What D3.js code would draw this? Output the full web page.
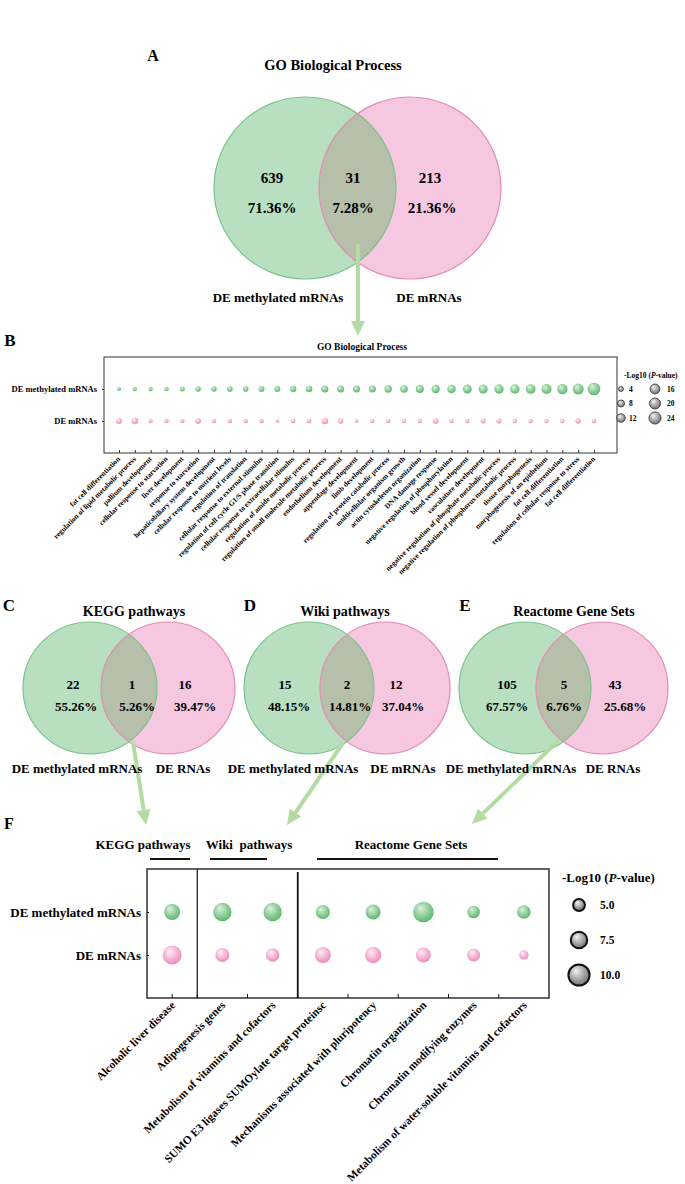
<!DOCTYPE html>
<html><head><meta charset="utf-8">
<script src="https://cdn.jsdelivr.net/npm/d3@7"></script>
<style>
body{margin:0;background:#fff}
svg{display:block;font-family:"Liberation Serif","Times New Roman",serif;font-weight:bold}
</style>
</head><body>
<svg id="c" width="685" height="1184"></svg>
<script>
// ---------------- DATA ----------------
const vennTitles = ["GO Biological Process", "KEGG pathways", "Wiki pathways", "Reactome Gene Sets"];
const vennLetters = ["A", "C", "D", "E"];
const vennCounts = [[639, 31, 213], [22, 1, 16], [15, 2, 12], [105, 5, 43]];
const vennPercents = [["71.36%", "7.28%", "21.36%"], ["55.26%", "5.26%", "39.47%"], ["48.15%", "14.81%", "37.04%"], ["67.57%", "6.76%", "25.68%"]];
const vennSetLabels = [["DE methylated mRNAs", "DE mRNAs"], ["DE methylated mRNAs", "DE RNAs"], ["DE methylated mRNAs", "DE mRNAs"], ["DE methylated mRNAs", "DE RNAs"]];

const rowNames = ["DE methylated mRNAs", "DE mRNAs"];

const goTerms = ["fat cell differentiation","regulation of lipid metabolic process","pallium development","cellular response to starvation","liver development","response to starvation","hepaticobiliary system development","cellular response to nutrient levels","regulation of translation","cellular response to external stimulus","regulation of cell cycle G1/S phase transition","cellular response to extracellular stimulus","regulation of amide metabolic process","regulation of small molecule metabolic process","endothelium development","appendage development","limb development","regulation of protein catabolic process","multicellular organism growth","actin cytoskeleton organization","DNA damage response","negative regulation of phosphorylation","blood vessel development","vasculature development","negative regulation of phosphate metabolic process","negative regulation of phosphorus metabolic process","tissue morphogenesis","morphogenesis of an epithelium","fat cell differentiation","regulation of cellular response to stress","fat cell differentiation"];
const goMethyl = [2.6,3.1,3.1,3.5,4.1,4.6,4.6,5.2,5.2,5.9,5.9,6.5,7.2,8.0,8.0,8.0,8.2,8.8,9.5,10.5,11.2,12.0,12.8,13.5,14.2,14.6,15.2,16.3,17.4,19.7,26];
const goMrna = [5.8,7.2,3.1,3.5,3.5,5.2,3.5,3.5,3.5,3.5,2.6,3.5,3.5,7.2,4.6,2.6,3.1,3.5,3.1,3.1,5.2,3.1,3.1,4.1,4.1,3.1,3.1,3.1,3.1,4.6,3.5];
const goLegend = [4, 8, 12, 16, 20, 24];

const pathTerms = ["Alcoholic liver disease","Adipogenesis genes","Metabolism of vitamins and cofactors","SUMO E3 ligases SUMOylate target proteinsc","Mechanisms associated with pluripotency","Chromatin organization","Chromatin modifying enzymes","Metabolism of water-soluble vitamins and cofactors"];
const pathGroupNames = ["KEGG pathways", "Wiki  pathways", "Reactome Gene Sets"];
const pathGroupOf = [0, 1, 1, 2, 2, 2, 2, 2];
const pathMethyl = [7.2, 8.5, 8.5, 6.2, 6.7, 9.7, 5.4, 5.9];
const pathMrna = [8.8, 6.2, 5.9, 7.2, 7.4, 6.7, 5.6, 3.7];
const pathLegend = [5.0, 7.5, 10.0];

// ---------------- LAYOUT ----------------
const svg = d3.select("#c");
const defs = svg.append("defs");
function radial(id, c0, c1) {
  const g = defs.append("radialGradient").attr("id", id)
    .attr("cx", "45%").attr("cy", "40%").attr("r", "60%").attr("fx", "35%").attr("fy", "30%");
  g.append("stop").attr("offset", "0%").attr("stop-color", c0);
  g.append("stop").attr("offset", "100%").attr("stop-color", c1);
}
radial("gGreen", "#dcf2de", "#5db66d");
radial("gPink", "#fff0f7", "#ec8bbd");
radial("gGray", "#f4f4f4", "#6f6f6f");

const GREEN_FILL = "#b9dfc1", PINK_FILL = "#f5c7e1", MID_FILL = "#b5bfaa";
const GREEN_STROKE = "#7cc389", PINK_STROKE = "#e48ab7";
const ARROW = "#b4dba4";

const vennLayout = [
  {cx1: 305, cx2: 410, cy: 188, rx: 91, ry: 91, letter: [153, 55, 16], title: [333, 65, 14.5], num: [272, 353, 430], pct: [272, 353, 432], rows: [178, 208], nfs: 15, lab: [278, 429], labY: 297, lfs: 13},
  {cx1: 90, cx2: 168, cy: 688, rx: 67, ry: 66, letter: [9, 605, 17], title: [134, 611, 14], num: [73, 132, 185], pct: [76, 137, 195], rows: [684, 706], nfs: 13, lab: [77, 183], labY: 768, lfs: 13},
  {cx1: 309, cx2: 385, cy: 688, rx: 65, ry: 66, letter: [250, 605, 17], title: [345, 611, 14], num: [285, 347, 396], pct: [289, 350, 403], rows: [684, 706], nfs: 13, lab: [293, 403], labY: 768, lfs: 13},
  {cx1: 525, cx2: 602, cy: 688, rx: 66, ry: 66, letter: [465, 605, 17], title: [574, 611, 14], num: [507, 564, 615], pct: [507, 564, 625], rows: [684, 706], nfs: 13, lab: [511, 613], labY: 768, lfs: 13}
];

function arrow(x1, y1, x2, y2) {
  const ang = Math.atan2(y2 - y1, x2 - x1);
  const L = 15, Wd = 7;
  const bx = x2 - L * Math.cos(ang), by = y2 - L * Math.sin(ang);
  svg.append("line").attr("x1", x1).attr("y1", y1).attr("x2", bx).attr("y2", by)
    .attr("stroke", ARROW).attr("stroke-width", 4);
  const px = -Math.sin(ang) * Wd, py = Math.cos(ang) * Wd;
  svg.append("path").attr("d", `M${x2},${y2}L${bx + px},${by + py}L${bx - px},${by - py}Z`).attr("fill", ARROW);
}

// ---------------- VENNS ----------------
vennLayout.forEach((L, i) => {
  const g = svg.append("g");
  const cid = "clipV" + i;
  defs.append("clipPath").attr("id", cid).append("ellipse")
    .attr("cx", L.cx1).attr("cy", L.cy).attr("rx", L.rx).attr("ry", L.ry);
  g.append("ellipse").attr("cx", L.cx1).attr("cy", L.cy).attr("rx", L.rx).attr("ry", L.ry).attr("fill", GREEN_FILL);
  g.append("ellipse").attr("cx", L.cx2).attr("cy", L.cy).attr("rx", L.rx).attr("ry", L.ry).attr("fill", PINK_FILL);
  g.append("ellipse").attr("cx", L.cx2).attr("cy", L.cy).attr("rx", L.rx).attr("ry", L.ry).attr("fill", MID_FILL).attr("clip-path", `url(#${cid})`);
  g.append("ellipse").attr("cx", L.cx1).attr("cy", L.cy).attr("rx", L.rx).attr("ry", L.ry).attr("fill", "none").attr("stroke", GREEN_STROKE).attr("stroke-width", 1.2);
  g.append("ellipse").attr("cx", L.cx2).attr("cy", L.cy).attr("rx", L.rx).attr("ry", L.ry).attr("fill", "none").attr("stroke", PINK_STROKE).attr("stroke-width", 1.2);
});

arrow(358, 244, 358, 336);
arrow(133, 742, 146, 825);
arrow(343, 743, 287, 825);
arrow(559, 740, 472, 824);

vennLayout.forEach((L, i) => {
  const g = svg.append("g");
  g.append("text").attr("x", L.letter[0]).attr("y", L.letter[1]).attr("text-anchor", "middle").attr("dominant-baseline", "central")
    .attr("font-size", L.letter[2]).text(vennLetters[i]);
  g.append("text").attr("x", L.title[0]).attr("y", L.title[1]).attr("text-anchor", "middle").attr("dominant-baseline", "central")
    .attr("font-size", L.title[2]).text(vennTitles[i]);
  vennCounts[i].forEach((c, j) => {
    g.append("text").attr("x", L.num[j]).attr("y", L.rows[0]).attr("text-anchor", "middle").attr("dominant-baseline", "central")
      .attr("font-size", L.nfs).text(c);
    g.append("text").attr("x", L.pct[j]).attr("y", L.rows[1]).attr("text-anchor", "middle").attr("dominant-baseline", "central")
      .attr("font-size", L.nfs).text(vennPercents[i][j]);
  });
  vennSetLabels[i].forEach((s, j) => {
    g.append("text").attr("x", L.lab[j]).attr("y", L.labY).attr("text-anchor", "middle").attr("dominant-baseline", "central")
      .attr("font-size", L.lfs).text(s);
  });
});

// ---------------- PANEL B ----------------
{
  const box = {left: 104, right: 617, top: 357, bottom: 453};
  const g = svg.append("g");
  g.append("text").attr("x", 10).attr("y", 340).attr("text-anchor", "middle").attr("dominant-baseline", "central").attr("font-size", 17).text("B");
  g.append("text").attr("x", 362).attr("y", 347).attr("text-anchor", "middle").attr("dominant-baseline", "central").attr("font-size", 9.5).text("GO Biological Process");

  const x = d3.scalePoint().domain(d3.range(goTerms.length)).range([box.left + 15, box.right - 23]);
  const y = d3.scalePoint().domain(rowNames).range([box.top, box.bottom]).padding(1);
  const r = d3.scaleSqrt().domain([0, 25]).range([0, 6.2]);

  g.append("rect").attr("x", box.left).attr("y", box.top).attr("width", box.right - box.left).attr("height", box.bottom - box.top)
    .attr("fill", "none").attr("stroke", "#333").attr("stroke-width", 1);

  const ya = g.append("g").attr("transform", `translate(${box.left},0)`).call(d3.axisLeft(y).tickSize(2).tickPadding(5));
  ya.select(".domain").remove();
  ya.selectAll("text").attr("font-size", 8.5).attr("font-family", "Liberation Serif").attr("font-weight", "bold").attr("fill", "#000");
  ya.selectAll("line").attr("stroke", "#333");

  const xa = g.append("g").attr("transform", `translate(0,${box.bottom})`)
    .call(d3.axisBottom(x).tickSize(3).tickFormat(i => goTerms[i]));
  xa.select(".domain").remove();
  xa.selectAll("line").attr("stroke", "#333").attr("y2", -3);
  xa.selectAll("text").attr("font-size", 7.3).attr("font-family", "Liberation Serif").attr("font-weight", "bold").attr("fill", "#000")
    .attr("text-anchor", "end").attr("dy", null).attr("dominant-baseline", "central")
    .attr("transform", "translate(0,4) rotate(-45)").attr("y", 0).attr("x", -1);

  g.selectAll("circle.m").data(goMethyl).join("circle").attr("class", "m")
    .attr("cx", (d, i) => x(i)).attr("cy", y(rowNames[0])).attr("r", d => r(d)).attr("fill", "url(#gGreen)");
  g.selectAll("circle.p").data(goMrna).join("circle").attr("class", "p")
    .attr("cx", (d, i) => x(i)).attr("cy", y(rowNames[1])).attr("r", d => r(d)).attr("fill", "url(#gPink)");

  const lg = g.append("g");
  const lt = lg.append("text").attr("x", 624).attr("y", 375).attr("font-size", 7.5).attr("dominant-baseline", "central");
  lt.append("tspan").text("-Log10 (");
  lt.append("tspan").attr("font-style", "italic").text("P");
  lt.append("tspan").text("-value)");
  const ly = d3.scalePoint().domain([0, 1, 2]).range([389, 418]);
  goLegend.forEach((v, k) => {
    const col = Math.floor(k / 3), row = k % 3;
    const cx = col === 0 ? 621 : 655;
    lg.append("circle").attr("cx", cx).attr("cy", ly(row)).attr("r", r(v)).attr("fill", "url(#gGray)").attr("stroke", "#333").attr("stroke-width", 0.8);
    lg.append("text").attr("x", col === 0 ? 629 : 667).attr("y", ly(row)).attr("dominant-baseline", "central").attr("font-size", 7.5).text(v);
  });
}

// ---------------- PANEL F ----------------
{
  const box = {left: 147, right: 549, top: 869, bottom: 998};
  const g = svg.append("g");
  g.append("text").attr("x", 9).attr("y", 823).attr("text-anchor", "middle").attr("dominant-baseline", "central").attr("font-size", 16).text("F");

  const x = d3.scaleBand().domain(d3.range(pathTerms.length)).range([box.left, box.right]);
  const y = d3.scalePoint().domain(rowNames).range([box.top, box.bottom]).padding(1);
  const r = d3.scaleLinear().domain([0, 10]).range([1.2, 10.6]);

  const groupTitleX = [143, 249, 411];
  const groupLine = [[150, 190], [210, 267], [317, 498]];
  pathGroupNames.forEach((n, k) => {
    g.append("text").attr("x", groupTitleX[k]).attr("y", 844).attr("text-anchor", "middle").attr("dominant-baseline", "central")
      .attr("font-size", 13).style("white-space", "pre").text(n);
    g.append("line").attr("x1", groupLine[k][0]).attr("x2", groupLine[k][1]).attr("y1", 859).attr("y2", 859)
      .attr("stroke", "#111").attr("stroke-width", 2);
  });

  g.append("rect").attr("x", box.left).attr("y", box.top).attr("width", box.right - box.left).attr("height", box.bottom - box.top)
    .attr("fill", "none").attr("stroke", "#111").attr("stroke-width", 1.3);
  for (let i = 1; i < pathTerms.length; i++) {
    if (pathGroupOf[i] !== pathGroupOf[i - 1]) {
      g.append("line").attr("x1", x(i)).attr("x2", x(i)).attr("y1", box.top + (pathGroupOf[i] === 2 ? 3 : 0)).attr("y2", box.bottom)
        .attr("stroke", "#111").attr("stroke-width", pathGroupOf[i] === 2 ? 1.8 : 1.2);
    }
  }
  pathTerms.forEach((t, i) => {
    const tx = i === 0 ? x(i) + x.bandwidth() / 2 : x(i);
    g.append("line").attr("x1", tx).attr("x2", tx).attr("y1", box.bottom).attr("y2", box.bottom - 4).attr("stroke", "#111");
  });

  const ya = g.append("g").attr("transform", `translate(${box.left},0)`).call(d3.axisLeft(y).tickSize(3).tickPadding(3));
  ya.select(".domain").remove();
  ya.selectAll("line").attr("stroke", "#111").attr("x2", 2);
  ya.selectAll("text").attr("font-size", 13).attr("font-family", "Liberation Serif").attr("font-weight", "bold").attr("fill", "#000");

  g.selectAll("text.xl").data(pathTerms).join("text").attr("class", "xl")
    .attr("transform", (d, i) => `translate(${x(i) + x.bandwidth() / 2 + 1},${box.bottom + 5}) rotate(-45)`)
    .attr("text-anchor", "end").attr("dominant-baseline", "central").attr("font-size", 11.3).text(d => d);

  g.selectAll("circle.m").data(pathMethyl).join("circle").attr("class", "m")
    .attr("cx", (d, i) => x(i) + x.bandwidth() / 2).attr("cy", y(rowNames[0])).attr("r", d => r(d)).attr("fill", "url(#gGreen)");
  g.selectAll("circle.p").data(pathMrna).join("circle").attr("class", "p")
    .attr("cx", (d, i) => x(i) + x.bandwidth() / 2).attr("cy", y(rowNames[1])).attr("r", d => r(d)).attr("fill", "url(#gPink)");

  const lt = g.append("text").attr("x", 562).attr("y", 877).attr("font-size", 13).attr("dominant-baseline", "central");
  lt.append("tspan").text("-Log10 (");
  lt.append("tspan").attr("font-style", "italic").text("P");
  lt.append("tspan").text("-value)");
  const ly = d3.scalePoint().domain(pathLegend).range([905, 975]);
  pathLegend.forEach(v => {
    g.append("circle").attr("cx", 579).attr("cy", ly(v)).attr("r", r(v)).attr("fill", "url(#gGray)").attr("stroke", "#111").attr("stroke-width", 2);
    g.append("text").attr("x", 600).attr("y", ly(v)).attr("dominant-baseline", "central").attr("font-size", 11.5).text(v.toFixed(1));
  });
}
</script>
</body></html>
